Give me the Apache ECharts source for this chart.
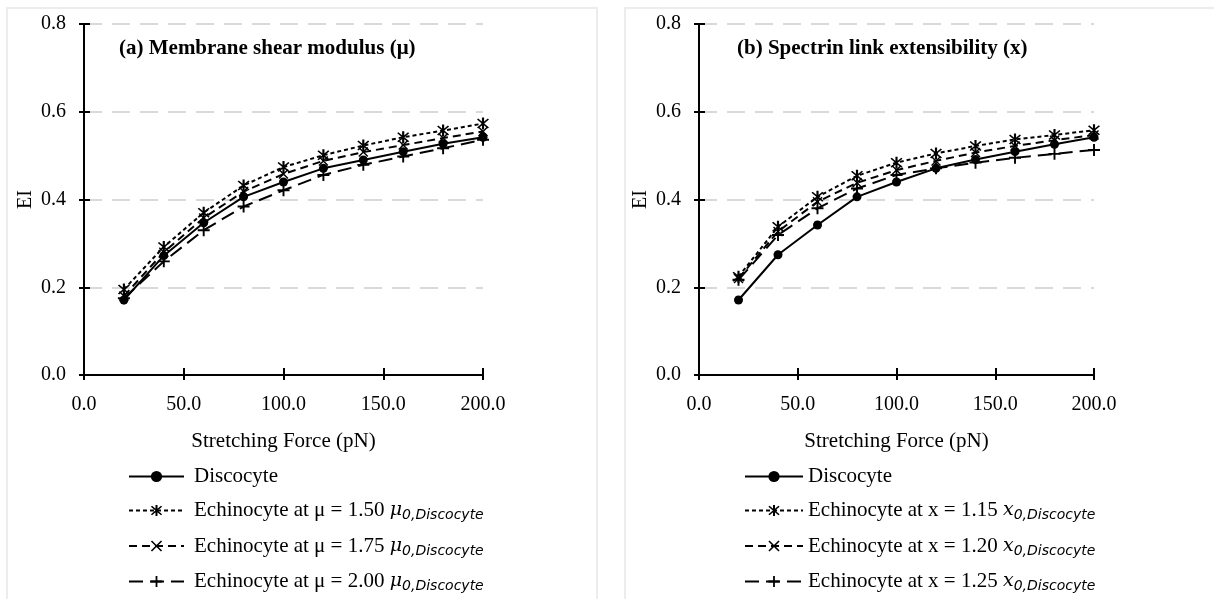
<!DOCTYPE html>
<html>
<head>
<meta charset="utf-8">
<script src="https://cdn.jsdelivr.net/npm/echarts@6/dist/echarts.min.js"></script>
<style>
html,body{margin:0;padding:0;background:#fff;}
#chart{width:1214px;height:599px;}
</style>
</head>
<body>
<div id="chart"></div>
<script>
// ---------- data ----------
var forces = [20, 40, 60, 80, 100, 120, 140, 160, 180, 200];
var xTicks = [0, 50, 100, 150, 200];
var yTicks = [0, 0.2, 0.4, 0.6, 0.8];

// panel (a): membrane shear modulus
var discocyteA = [0.171, 0.272, 0.347, 0.406, 0.44, 0.471, 0.49, 0.509, 0.527, 0.542];
var muA150 = [0.195, 0.292, 0.37, 0.432, 0.474, 0.501, 0.523, 0.542, 0.557, 0.573];
var muA175 = [0.18, 0.28, 0.358, 0.418, 0.458, 0.488, 0.508, 0.524, 0.54, 0.555];
var muA200 = [0.175, 0.259, 0.33, 0.384, 0.421, 0.456, 0.479, 0.498, 0.517, 0.536];

// panel (b): spectrin link extensibility
var discocyteB = [0.171, 0.274, 0.342, 0.406, 0.44, 0.471, 0.491, 0.509, 0.526, 0.542];
var xB115 = [0.224, 0.338, 0.406, 0.454, 0.484, 0.505, 0.522, 0.537, 0.547, 0.558];
var xB120 = [0.22, 0.327, 0.395, 0.438, 0.467, 0.488, 0.507, 0.522, 0.535, 0.547];
var xB125 = [0.217, 0.319, 0.38, 0.425, 0.456, 0.471, 0.484, 0.495, 0.504, 0.513];

var titleA = '(a) Membrane shear modulus (μ)';
var titleB = '(b) Spectrin link extensibility (x)';
var xName = 'Stretching Force (pN)';
var yName = 'EI';
var namesA = ['Discocyte', 'Echinocyte at μ = 1.50', 'Echinocyte at μ = 1.75', 'Echinocyte at μ = 2.00'];
var namesB = ['Discocyte', 'Echinocyte at x = 1.15', 'Echinocyte at x = 1.20', 'Echinocyte at x = 1.25'];
var mathSymA = 'μ';
var mathSymB = 'x';
var mathSub = '0,Discocyte';

// ---------- styles ----------
var FONT = 'Liberation Serif';
var symAsterisk = 'path://M-5,-4L-4,-5L5,4L4,5ZM4,-5L5,-4L-4,5L-5,4ZM-0.9,-6L0.9,-6L0.9,6L-0.9,6Z';
var symX = 'path://M-5,-4L-4,-5L5,4L4,5ZM4,-5L5,-4L-4,5L-5,4Z';
var symPlus = 'path://M-0.8,-5L0.8,-5L0.8,-0.8L5,-0.8L5,0.8L0.8,0.8L0.8,5L-0.8,5L-0.8,0.8L-5,0.8L-5,-0.8L-0.8,-0.8Z';
var styles = [
  {symbol: 'circle', size: 9, type: 'solid', width: 2},
  {symbol: symAsterisk, size: 12, type: [4, 3], width: 2},
  {symbol: symX, size: 10, type: [8, 5], width: 2},
  {symbol: symPlus, size: 12, type: [14, 7], width: 2}
];

function pairs(arr) { return forces.map(function (f, i) { return [f, arr[i]]; }); }
function mkSeries(name, arr, k, gi) {
  var s = styles[k];
  return {
    name: name, type: 'line', xAxisIndex: gi * 2, yAxisIndex: gi * 2,
    data: pairs(arr), symbol: s.symbol, symbolSize: s.size, showSymbol: true,
    lineStyle: {color: '#000', width: s.width, type: s.type},
    itemStyle: {color: '#000'}, z: 5 - k, animation: false
  };
}

var seriesA = [discocyteA, muA150, muA175, muA200].map(function (a, k) { return mkSeries(namesA[k], a, k, 0); });
var seriesB = [discocyteB, xB115, xB120, xB125].map(function (a, k) { return mkSeries(namesB[k], a, k, 1); });

function legendFmt(sym) {
  return function (name) {
    if (name === 'Discocyte') return '{t|' + name + '}';
    return '{t|' + name + ' }{m|' + sym + '}{s|' + mathSub + '}';
  };
}
var legendRich = {
  t: {fontFamily: FONT, fontSize: 21, color: '#000'},
  m: {fontFamily: 'DejaVu Serif', fontStyle: 'italic', fontSize: 19, color: '#000'},
  s: {fontFamily: 'DejaVu Sans', fontStyle: 'italic', fontSize: 14, color: '#000', padding: [10, 0, 0, 0]}
};

function xAxes(gi) {
  return [{
    type: 'value', gridIndex: gi, min: xTicks[0], max: xTicks[xTicks.length - 1], interval: 50,
    name: xName, nameLocation: 'middle', nameGap: 56,
    nameTextStyle: {fontFamily: FONT, fontSize: 21, color: '#000'},
    axisLine: {lineStyle: {color: '#000', width: 2}},
    axisTick: {show: true, length: 5, lineStyle: {color: '#000', width: 2}},
    axisLabel: {fontFamily: FONT, fontSize: 20, color: '#000', margin: 20,
      formatter: function (v) { return v.toFixed(1); }},
    splitLine: {show: false}
  }, {
    type: 'value', gridIndex: gi, min: 0, max: 200, interval: 50, position: 'bottom',
    axisLine: {show: false}, axisLabel: {show: false}, splitLine: {show: false},
    axisTick: {show: true, inside: true, length: 7, lineStyle: {color: '#000', width: 2}}
  }];
}
function yAxes(gi) {
  return [{
    type: 'value', gridIndex: gi, min: 0, max: 0.8, interval: 0.2,
    name: yName, nameLocation: 'middle', nameGap: 48, nameRotate: 90,
    nameTextStyle: {fontFamily: FONT, fontSize: 20, color: '#000'},
    axisLine: {show: true, lineStyle: {color: '#000', width: 2}},
    axisTick: {show: true, length: 5, lineStyle: {color: '#000', width: 2}},
    axisLabel: {fontFamily: FONT, fontSize: 20, color: '#000', margin: 18,
      formatter: function (v) { return v.toFixed(1); }},
    splitLine: {show: true, lineStyle: {color: '#d9d9d9', width: 2, type: [18, 10]}}
  }, {
    type: 'value', gridIndex: gi, min: 0, max: 0.8, interval: 0.2, position: 'left',
    axisLine: {show: false}, axisLabel: {show: false}, splitLine: {show: false},
    axisTick: {show: true, inside: true, length: 6, lineStyle: {color: '#000', width: 2}}
  }];
}

var option = {
  backgroundColor: '#fff',
  animation: false,
  graphic: [
    {type: 'rect', shape: {x: 7, y: 8, width: 590, height: 620}, style: {fill: 'none', stroke: '#ececec', lineWidth: 2}, z: -10},
    {type: 'rect', shape: {x: 625, y: 8, width: 620, height: 620}, style: {fill: 'none', stroke: '#ececec', lineWidth: 2}, z: -10}
  ],
  title: [
    {text: titleA, left: 114, top: 33, textStyle: {fontFamily: FONT, fontWeight: 'bold', fontSize: 21, color: '#000'}},
    {text: titleB, left: 732, top: 33, textStyle: {fontFamily: FONT, fontWeight: 'bold', fontSize: 21, color: '#000'}}
  ],
  grid: [
    {left: 84, right: 731, top: 24, bottom: 224},
    {left: 699, right: 120, top: 24, bottom: 224}
  ],
  xAxis: xAxes(0).concat(xAxes(1)),
  yAxis: yAxes(0).concat(yAxes(1)),
  legend: [
    {data: namesA, orient: 'vertical', left: 128, top: 466, height: 200, padding: 0,
      itemWidth: 55, itemHeight: 14, itemGap: 13,
      formatter: legendFmt(mathSymA), textStyle: {rich: legendRich, padding: [0, 0, 0, 5]}, selectedMode: false},
    {data: namesB, orient: 'vertical', left: 744, top: 466, height: 200, padding: 0,
      itemWidth: 58, itemHeight: 14, itemGap: 13,
      formatter: legendFmt(mathSymB), textStyle: {rich: legendRich}, selectedMode: false}
  ],
  series: seriesA.concat(seriesB)
};
var chart = echarts.init(document.getElementById('chart'), null, {renderer: 'canvas'});
chart.setOption(option);
</script>
</body>
</html>
